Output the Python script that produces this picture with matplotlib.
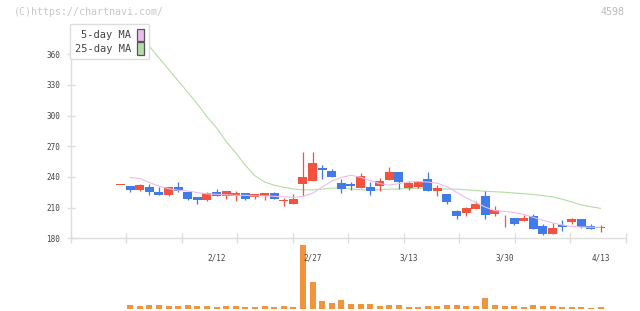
import numpy as np
import matplotlib
matplotlib.use("Agg")
import matplotlib.pyplot as plt
from matplotlib.patches import Patch

# ---------------- data ----------------
opens = [232.5, 231, 227.3, 230, 225, 222, 230, 225, 220, 217, 225, 221, 221, 224, 220, 221, 224, 216.7, 214, 233,
         236, 248.5, 245.6, 234, 233, 229, 230, 231, 237, 244.6, 229, 230, 237.7, 226, 223, 206.4, 204.5, 208.4, 221, 203.5,
         199.4, 199.6, 196.6, 201.5, 191.7, 183.9, 192.7, 195.7, 198.6, 191.7, 190.4]
closes = [232.5, 227, 232, 225, 222, 230, 226, 218, 217, 224, 221, 226, 224, 218, 223, 224, 218, 217.2, 218, 240,
          254, 246.5, 239.7, 228, 231, 240.7, 226, 235.8, 244.6, 234.8, 234, 235, 226, 229, 215, 201.5, 209.4, 213.3, 202.5, 207.4,
          199.8, 193.7, 199.6, 188.8, 183.9, 189.8, 190.8, 198.6, 190.8, 188.8, 190.8]
highs = [232.5, 231, 233.5, 233, 230, 230, 235, 225, 220, 225, 228, 226, 226, 224, 223, 224, 225, 219, 223, 264,
         264, 251.5, 247.5, 237.7, 235, 243.6, 235, 238.7, 249.5, 244.6, 236, 236, 244.6, 232, 223, 207.4, 210.3, 216.2, 226, 211.3,
         202.5, 199.6, 202.5, 203.5, 193.7, 194.7, 197.6, 199.6, 198.6, 193.7, 192.7]
lows = [232.5, 225, 226, 222, 222, 221, 225, 217, 214, 216, 221, 218, 216, 217, 218, 217, 218, 212, 214, 221,
        236, 238, 239.7, 224, 227, 229, 222, 226, 237, 228, 227, 229, 226, 221, 214, 198.6, 201.5, 208.4, 198.6, 201.5,
        190.8, 192.7, 196.6, 188.8, 182.9, 183.9, 186.8, 193.7, 189.8, 188.8, 185.9]
volumes = [0, 38, 28, 38, 38, 28, 28, 38, 28, 28, 17, 28, 28, 17, 17, 28, 17, 28, 17, 634,
           269, 79, 59, 90, 48, 48, 48, 28, 38, 38, 17, 17, 28, 28, 38, 38, 28, 28, 110, 38,
           28, 28, 17, 38, 28, 28, 17, 17, 17, 7, 17]
ma5 = [np.nan, 239.5, 238.5, 234.5, 231, 228.5, 227, 226.3, 224.7, 223.5, 223, 222.5, 222, 222, 221.5, 221.5, 221,
       220.5, 220, 221, 224, 230, 236, 239.5, 241.6, 239.7, 236.5, 233.5, 232, 233.5, 235, 235.5, 235, 233.8, 230.5,
       225, 219.5, 215, 210.5, 207, 206.4, 205.2, 203.5, 200.5, 197.5, 195, 193, 191.7, 191, 190.8, 190.8]
ma25 = [np.nan, np.nan, 379, 367.7, 356.4, 345.2, 333.9, 322.8, 311.4, 298.9, 288, 274.7, 263.5, 251.4, 241.1,
        235.1, 231.9, 229.9, 228.3, 227.3, 227.3, 228.1, 229, 229.3, 228.2, 227.5, 226.8, 227.6, 228, 228.3, 228.6,
        228.9, 228.8, 228.6, 228.2, 228, 227.4, 226.7, 226, 225.5, 225, 224.3, 223.6, 222.8, 221.7, 220.4, 218.2,
        215.5, 212.6, 210.8, 209.3]
date_label_idx = [10, 20, 30, 40, 50]
date_labels = ["2/12", "2/27", "3/13", "3/30", "4/13"]
price_ticks = [180, 210, 240, 270, 300, 330, 360]
legend_labels = ["5-day MA", "25-day MA"]

# ---------------- style ----------------
RED = "#f2533f"
BLUE = "#3f7be9"
ORANGE = "#f2943e"
PINK = "#ecbcec"
GREEN = "#b4dca6"
AXC = "#dddddd"
TXT = "#444444"
MONO = "DejaVu Sans Mono"

W, H = 640, 311
fig = plt.figure(figsize=(W / 100, H / 100), dpi=100)
fig.patch.set_facecolor("white")

x_left, x_right = 71, 625.5
y_bot, y_top = 238.3, 25
vy_bot, vy_top = 308.7, 245.3

axv = fig.add_axes([x_left / W, 1 - vy_bot / H, (x_right - x_left) / W, (vy_bot - vy_top) / H])
ax = fig.add_axes([x_left / W, 1 - y_bot / H, (x_right - x_left) / W, (y_bot - y_top) / H])
ax.set_zorder(3)
ax.patch.set_alpha(0)

n = len(opens)
x = np.arange(n)
o = np.array(opens); c = np.array(closes); hi = np.array(highs); lo = np.array(lows)
up = c >= o
cols = np.where(up, RED, BLUE)

xlim = (-5.16, 52.6)

# candles
ax.vlines(x, lo, hi, colors=cols, linewidth=0.9, zorder=2)
body_h = np.maximum(np.abs(c - o), 0.9)
ax.bar(x, body_h, bottom=np.minimum(o, c), width=0.93, color=cols, linewidth=0, zorder=3)

# moving averages
ax.plot(x, ma5, color=PINK, lw=0.8, zorder=4)
ax.plot(x, ma25, color=GREEN, lw=0.8, zorder=1.5)

ax.set_xlim(*xlim)
ax.set_ylim(180, 388.5)
for s in ["top", "right"]:
    ax.spines[s].set_visible(False)
for s in ["left", "bottom"]:
    ax.spines[s].set_color(AXC)
    ax.spines[s].set_linewidth(1)

ax.set_yticks(price_ticks)
ax.set_yticklabels([str(t) for t in price_ticks], fontfamily=MONO, fontsize=5.5, color=TXT)
ax.tick_params(axis="y", direction="inout", length=6, width=1, color=AXC, pad=5)

ax.set_xticks(np.linspace(xlim[0], xlim[1], 11))
ax.set_xticklabels([])
ax.tick_params(axis="x", which="major", direction="inout", length=7, width=1, color=AXC)
ax.set_xticks(date_label_idx, minor=True)
ax.set_xticklabels(date_labels, minor=True, fontfamily=MONO, fontsize=5.5, color=TXT)
ax.tick_params(axis="x", which="minor", length=0, pad=11)

# volume
axv.bar(x, volumes, width=0.63, color=ORANGE, linewidth=0)
axv.set_xlim(*xlim)
axv.set_ylim(0, max(volumes))
axv.axis("off")

# legend
handles = [Patch(facecolor=PINK, edgecolor="#555555", linewidth=0.9),
           Patch(facecolor=GREEN, edgecolor="#555555", linewidth=0.9)]
leg = ax.legend(handles, legend_labels, loc="upper left",
                bbox_to_anchor=(70 / W, 1 - 24 / H), bbox_transform=fig.transFigure,
                borderaxespad=0, markerfirst=False, handlelength=0.65, handleheight=1.45,
                handletextpad=0.6, labelspacing=0.12, borderpad=0.45, fancybox=False,
                frameon=True, framealpha=1, edgecolor=AXC,
                prop={"family": MONO, "size": 7.5})
leg.get_frame().set_linewidth(1)
leg.set_zorder(10)
for t in leg.get_texts():
    t.set_color(TXT)

fig.text(14 / W, 1 - 12 / H, "(C)https://chartnavi.com/", fontfamily=MONO, fontsize=7.2,
         color="#c8c8c8", va="center", ha="left")
fig.text(625 / W, 1 - 12 / H, "4598", fontfamily=MONO, fontsize=7.2,
         color="#bbbbbb", va="center", ha="right")

fig.savefig("out.png", dpi=100, facecolor="white")
